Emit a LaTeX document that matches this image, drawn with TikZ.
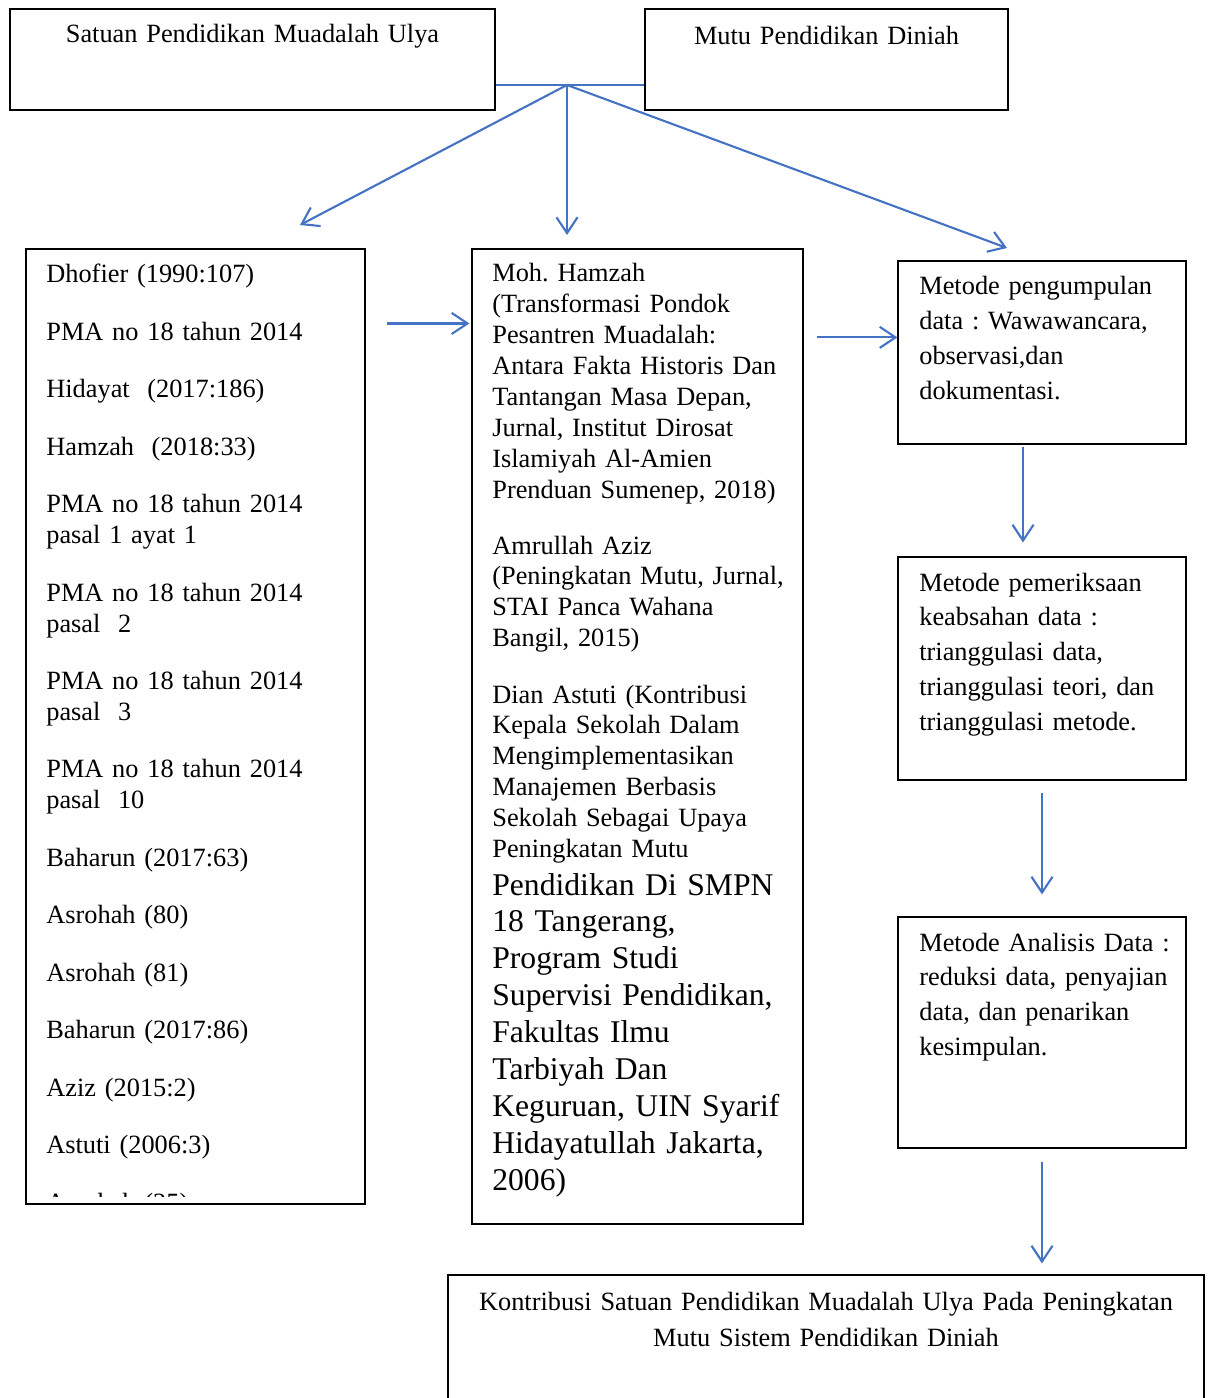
\documentclass[tikz,border=0pt]{standalone}
\usepackage{fontspec}
\setmainfont{Liberation Serif}
\usepackage{tikz}
\usetikzlibrary{arrows.meta,calc}
\usepackage{xcolor}
\definecolor{linkblue}{RGB}{68,114,196}
\frenchspacing

\begin{document}
\begin{tikzpicture}[
    x=0.02cm, y=-0.02cm,
    frame/.style={draw, line width=0.7pt, inner sep=0pt},
    txt/.style={anchor=base west, inner sep=0pt, align=left, text width=6.2cm, font=\fontsize{15}{17.6}\selectfont},
    sidetxt/.style={txt, text width=5.5cm, font=\fontsize{15}{19.9}\selectfont},
    bigtxt/.style={txt, font=\fontsize{18}{21}\selectfont},
    link/.style={linkblue, line width=1.2pt},
    arrow/.style={link, -{Straight Barb[length=9pt, width=12pt, line width=1.2pt]}}
]
\useasboundingbox (0,0) rectangle (1211,1398);
\clip (0,0) rectangle (1211,1398);

% Top boxes
\node[frame, minimum width=9.7cm, minimum height=2.02cm] (satuan) at (252.5,59.5) {};
\node[txt, anchor=base, align=center, text width=9cm] (satuanT) at (252.5,43) {Satuan Pendidikan Muadalah Ulya};
\node[frame, minimum width=7.26cm, minimum height=2.02cm] (mutu) at (826.5,59.5) {};
\node[txt, anchor=base, align=center, text width=7cm] (mutuT) at (826.5,45) {Mutu Pendidikan Diniah};

% Hub between the two top boxes
\coordinate (hub) at (567,85);
\coordinate (litTop) at (300,225);
\coordinate (midTop) at (567,235);
\coordinate (metTop) at (1007,248);

\draw[link] (satuan.east |- hub) -- (mutu.west |- hub);
\draw[arrow] (hub) -- (litTop);
\draw[arrow] (hub) -- (midTop);
\draw[arrow] (hub) -- (metTop);

% Left column: references
\node[frame, minimum width=6.78cm, minimum height=19.1cm] (lit) at (195.5,726.5) {};
\begin{scope}
\clip (26,249) rectangle (365,1196);
\node[txt] (litT) at (46,283) {Dhofier (1990:107)\\[15.1pt]
PMA no 18 tahun 2014\\[15.1pt]
Hidayat~ (2017:186)\\[15.1pt]
Hamzah~ (2018:33)\\[15.1pt]
PMA no 18 tahun 2014\\ pasal 1 ayat 1\\[15.1pt]
PMA no 18 tahun 2014\\ pasal~ 2\\[15.1pt]
PMA no 18 tahun 2014\\ pasal~ 3\\[15.1pt]
PMA no 18 tahun 2014\\ pasal~ 10\\[15.1pt]
Baharun (2017:63)\\[15.1pt]
Asrohah (80)\\[15.1pt]
Asrohah (81)\\[15.1pt]
Baharun (2017:86)\\[15.1pt]
Aziz (2015:2)\\[15.1pt]
Astuti (2006:3)\\[15.1pt]
Asrohah (25)};
\end{scope}

% Middle column: previous studies
\node[frame, minimum width=6.62cm, minimum height=19.5cm] (mid) at (637.5,736.5) {};
\node[txt] (hamzah) at (492,282) {Moh. Hamzah\\ (Transformasi Pondok\\ Pesantren Muadalah:\\ Antara Fakta Historis Dan\\ Tantangan Masa Depan,\\ Jurnal, Institut Dirosat\\ Islamiyah Al-Amien\\ Prenduan Sumenep, 2018)};
\node[txt] (aziz) at (492,554) {Amrullah Aziz\\ (Peningkatan Mutu, Jurnal,\\ STAI Panca Wahana\\ Bangil, 2015)};
\node[txt] (astuti) at (492,703) {Dian Astuti (Kontribusi\\ Kepala Sekolah Dalam\\ Mengimplementasikan\\ Manajemen Berbasis\\ Sekolah Sebagai Upaya\\ Peningkatan Mutu};
\node[bigtxt] (astutiB) at (492,895) {Pendidikan Di SMPN\\ 18 Tangerang,\\ Program Studi\\ Supervisi Pendidikan,\\ Fakultas Ilmu\\ Tarbiyah Dan\\ Keguruan, UIN Syarif\\ Hidayatullah Jakarta,\\ 2006)};

% Right column: methods
\node[frame, minimum width=5.76cm, minimum height=3.66cm] (met1) at (1042,352.5) {};
\node[sidetxt] (met1T) at (919,295) {Metode pengumpulan\\ data : Wawawancara,\\ observasi,dan\\ dokumentasi.};
\node[frame, minimum width=5.76cm, minimum height=4.46cm] (met2) at (1042,668.5) {};
\node[sidetxt] (met2T) at (919,591) {Metode pemeriksaan\\ keabsahan data :\\ trianggulasi data,\\ trianggulasi teori, dan\\ trianggulasi metode.};
\node[frame, minimum width=5.76cm, minimum height=4.62cm] (met3) at (1042,1032.5) {};
\node[sidetxt] (met3T) at (919,951) {Metode Analisis Data :\\ reduksi data, penyajian\\ data, dan penarikan\\ kesimpulan.};

% Result
\node[frame, minimum width=15.12cm, minimum height=2.9cm] (kontrib) at (826,1347.5) {};
\node[txt, anchor=base, align=center, text width=15cm, font=\fontsize{15}{20.5}\selectfont] (kontribT) at (826,1310) {Kontribusi Satuan Pendidikan Muadalah Ulya Pada Peningkatan\\ Mutu Sistem Pendidikan Diniah};

% Connectors
\draw[arrow, shorten <=0.42cm] ([yshift=-1.5cm]lit.north east) -- ([yshift=-1.5cm, xshift=-0.04cm]lit.north east -| mid.west);
\draw[arrow, shorten <=0.26cm] ([yshift=-1.54cm]met1.north west -| mid.east) -- ([yshift=-1.54cm]met1.north west);
\draw[arrow] ([xshift=-0.38cm, yshift=-0.04cm]met1.south) -- ([xshift=-0.38cm, yshift=0.28cm]met2.north);
\draw[arrow] ([yshift=-0.24cm]met2.south) -- ([yshift=0.44cm]met3.north);
\draw[arrow] ([yshift=-0.26cm]met3.south) -- ([yshift=0.22cm]met3.south |- kontrib.north);

\end{tikzpicture}
\end{document}
